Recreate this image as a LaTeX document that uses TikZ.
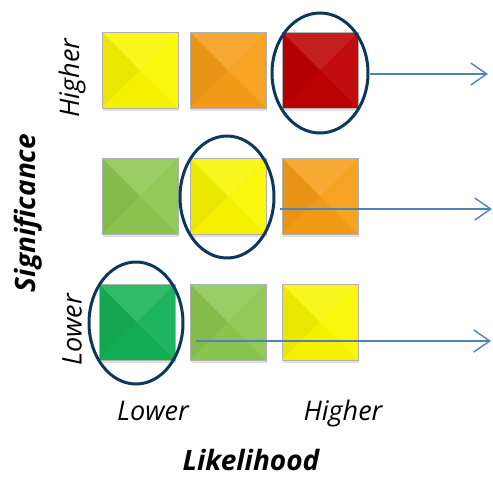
\documentclass[tikz,border=0pt]{standalone}
\usepackage{fontspec}
\setmainfont{Open Sans}
\usetikzlibrary{shapes.geometric,arrows.meta,shadows,calc}

\definecolor{riskyellow}{RGB}{250,246,0}
\definecolor{riskorange}{RGB}{246,158,24}
\definecolor{riskred}{RGB}{190,0,0}
\definecolor{risklime}{RGB}{140,200,80}
\definecolor{riskgreen}{RGB}{20,178,86}
\definecolor{ringblue}{RGB}{12,56,92}
\definecolor{arrowblue}{RGB}{79,129,189}

\tikzset{
  riskbox/.style={draw=gray!60, line width=0.6pt, fill=#1, minimum size=76pt, inner sep=0pt,
    drop shadow={opacity=0.25, shadow xshift=1pt, shadow yshift=-3pt},
    path picture={
      \fill[white,opacity=0.12] (path picture bounding box.north west) -- (path picture bounding box.north east) -- (path picture bounding box.center) -- cycle;
      \fill[black,opacity=0.06] (path picture bounding box.north west) -- (path picture bounding box.south west) -- (path picture bounding box.center) -- cycle;
      \fill[black,opacity=0.02] (path picture bounding box.south west) -- (path picture bounding box.south east) -- (path picture bounding box.center) -- cycle;
      \fill[white,opacity=0.05] (path picture bounding box.north east) -- (path picture bounding box.south east) -- (path picture bounding box.center) -- cycle;
    }},
  ring/.style={ellipse, draw=ringblue, line width=3pt, inner sep=0pt},
  pointer/.style={draw=arrowblue, line width=1.4pt, -{Straight Barb[length=16pt,width=22pt]}},
  axislabel/.style={inner sep=0pt, font=\fontsize{27}{30}\selectfont\itshape},
  axistitle/.style={inner sep=0pt, font=\fontsize{28}{32}\selectfont\bfseries\itshape}
}

\begin{document}
\begin{tikzpicture}[x=1pt,y=-1pt]
	\useasboundingbox (0,0) rectangle (493,477);

	\node[riskbox=riskyellow] (b11) at (140,70) {};
	\node[riskbox=riskorange] (b12) at (228,70) {};
	\node[riskbox=riskred] (b13) at (320,70) {};

	\node[riskbox=risklime] (b21) at (140,196) {};
	\node[riskbox=riskyellow] (b22) at (228,196) {};
	\node[riskbox=riskorange] (b23) at (320,196) {};

	\node[riskbox=riskgreen] (b31) at (137,322) {};
	\node[riskbox=risklime] (b32) at (228,322) {};
	\node[riskbox=riskyellow] (b33) at (320,322) {};

	\node[ring, minimum width=96pt, minimum height=120pt] (ring1) at (320,73) {};
	\node[ring, minimum width=94pt, minimum height=122pt] (ring2) at (227,197) {};
	\node[ring, minimum width=94pt, minimum height=122pt] (ring3) at (136,323) {};

	\coordinate (tip1) at (488,74);
	\coordinate (tip2) at (492,209);
	\coordinate (tip3) at (491,341);
	\draw[pointer] (ring1.east |- tip1) -- (tip1);
	\draw[pointer] ($(b23.west |- tip2)+(-2,0)$) -- (tip2);
	\draw[pointer] ($(b32.west |- tip3)+(6,0)$) -- (tip3);

	\node[axislabel, rotate=90] (sighigh) at (72,78) {Higher};
	\node[axislabel, rotate=90] (siglow) at (72,330) {Lower};
	\node[axistitle, rotate=90] (sigtitle) at (28,213) {Significance};
	\node[axislabel] (likelow) at (153,411) {Lower};
	\node[axislabel] (likehigh) at (343,413) {Higher};
	\node[axistitle] (liketitle) at (251,460) {Likelihood};
\end{tikzpicture}
\end{document}
